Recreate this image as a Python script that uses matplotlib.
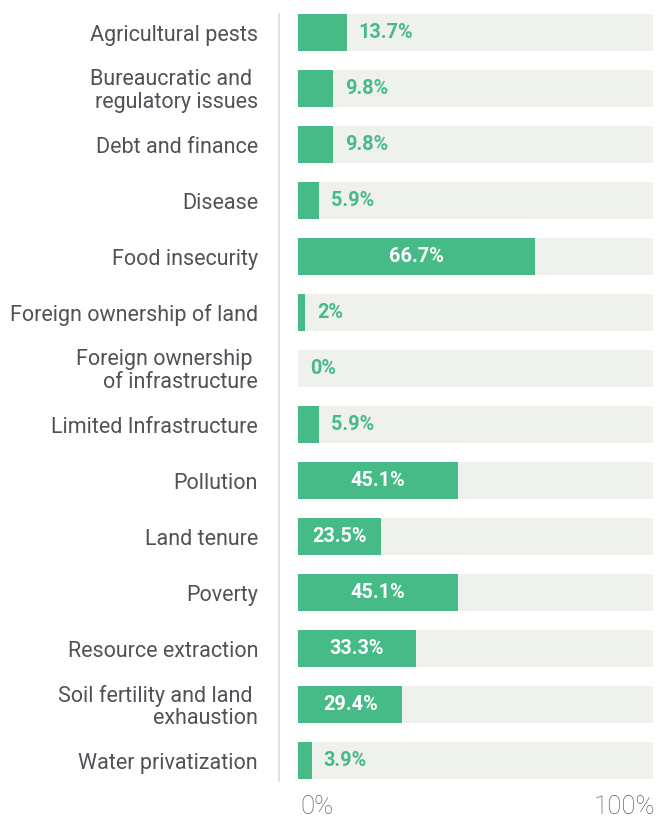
import matplotlib
matplotlib.use('Agg')
import matplotlib.pyplot as plt
from matplotlib.lines import Line2D

categories = [
    "Agricultural pests",
    "Bureaucratic and \nregulatory issues",
    "Debt and finance",
    "Disease",
    "Food insecurity",
    "Foreign ownership of land",
    "Foreign ownership \nof infrastructure",
    "Limited Infrastructure",
    "Pollution",
    "Land tenure",
    "Poverty",
    "Resource extraction",
    "Soil fertility and land \nexhaustion",
    "Water privatization",
]
values = [13.7, 9.8, 9.8, 5.9, 66.7, 2, 0, 5.9, 45.1, 23.5, 45.1, 33.3, 29.4, 3.9]
labels = ["13.7%", "9.8%", "9.8%", "5.9%", "66.7%", "2%", "0%", "5.9%",
          "45.1%", "23.5%", "45.1%", "33.3%", "29.4%", "3.9%"]

green = '#46bb87'
bg = '#eff1ec'
grey = '#4f5257'
plt.rcParams['font.family'] = ['Roboto', 'DejaVu Sans']

W, H = 658, 817
fig = plt.figure(figsize=(W / 100, H / 100), dpi=100)
ax = fig.add_axes([298 / W, 1 - 788.5 / H, 355 / W, (788.5 - 4.5) / H])

y = list(range(len(categories)))
ax.barh(y, [100] * len(y), height=0.66, color=bg)
ax.barh(y, values, height=0.66, color=green)

px = 100 / 355  # data units per pixel (x)
py = 1 / 56     # data units per pixel (y)
for yi, v, lab, cat in zip(y, values, labels, categories):
    if v >= 20:
        ax.text(v / 2, yi, lab, ha='center', va='center', color='white',
                fontsize=14.3, fontweight='bold')
    else:
        ax.text(v + 12 * px, yi, lab, ha='left', va='center', color=green,
                fontsize=14.3, fontweight='bold')
    ax.text(-40 * px, yi + 2.5 * py, cat, ha='right', va='center',
            fontsize=15.5, color=grey, linespacing=1.1, clip_on=False)

ax.set_xlim(0, 100)
ax.set_ylim(len(y) - 0.5, -0.5)
ax.set_yticks([])
ax.set_xticks([])
for s in ax.spines.values():
    s.set_visible(False)

fig.add_artist(Line2D([279 / W, 279 / W], [1 - 14 / H, 1 - 781 / H],
                      color='#dcdcdc', lw=1.2, transform=fig.transFigure))
fig.text(300 / W, 1 - 806.5 / H, "0%", ha='left', va='center', fontsize=18.5,
         color='#5f6266', fontweight='light')
fig.text(655 / W, 1 - 806.5 / H, "100%", ha='right', va='center', fontsize=18.5,
         color='#5f6266', fontweight='light')

fig.savefig('out.png', dpi=100)
